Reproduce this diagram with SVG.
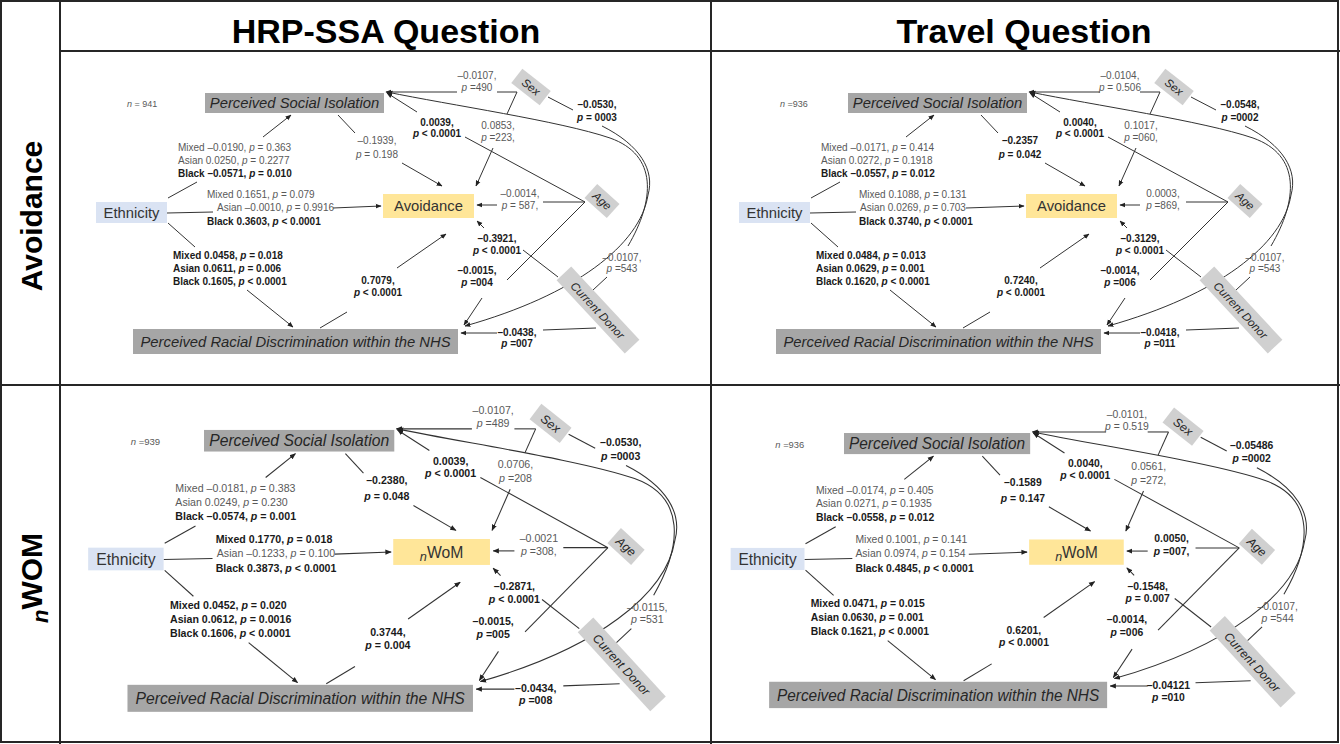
<svg xmlns="http://www.w3.org/2000/svg" width="1340" height="744" viewBox="0 0 1340 744">
<style>
.t{font-family:"Liberation Sans",Arial,sans-serif}
.lab{font-size:10px;fill:#595959}
.b{font-weight:bold;fill:#1a1a1a}
.c{text-anchor:middle}
.i{font-style:italic}
.e path{fill:none;stroke:#333;stroke-width:1}
.e path.a{marker-end:url(#ah)}
.gbox{fill:#a6a6a6}
.lbox{fill:#d0d0d0}
.big{font-size:14.8px;font-style:italic;fill:#262626;text-anchor:middle}
.node{font-size:14.8px;fill:#333;text-anchor:middle}
.sm{font-size:11.5px;font-style:italic;fill:#262626;text-anchor:middle}
.nn{font-size:9px;fill:#595959}
.hd{font-size:34px;font-weight:bold;fill:#000;text-anchor:middle}
.rl{font-size:30px;font-weight:bold;fill:#000;text-anchor:middle}
</style>
<defs>
<marker id="ah" viewBox="0 0 10 10" refX="9" refY="5" markerWidth="6" markerHeight="6" orient="auto" markerUnits="userSpaceOnUse"><path d="M0 1L10 5L0 9z" fill="#222"/></marker>
</defs>
<rect x="0" y="0" width="1340" height="744" fill="#fff"/>
<g id="frame" fill="none" stroke="#262626" stroke-width="2">
<rect x="1" y="1" width="1337" height="741"/>
<line x1="60" y1="0" x2="60" y2="744"/>
<line x1="711" y1="0" x2="711" y2="744"/>
<line x1="60" y1="51" x2="1340" y2="51"/>
<line x1="0" y1="385" x2="1340" y2="385"/>
</g>
<g id="headers">
<text class="t hd" x="386" y="43">HRP-SSA Question</text>
<text class="t hd" x="1024" y="43">Travel Question</text>
<text class="t rl" transform="translate(42 216) rotate(-90)">Avoidance</text>
<text class="t rl" transform="translate(42 578) rotate(-90)"><tspan class="i" font-size="22" dy="6">n</tspan><tspan dy="-6">WOM</tspan></text>
</g>

<!-- Panel 1: HRP-SSA / Avoidance -->
<g id="panel-hrp-avoidance">
<g id="p1-connectors" class="e">
<path d="M168 198L197 182"/><path class="a" d="M263 137L291 115"/>
<path d="M167 213L213 212"/><path class="a" d="M333 208L381 206"/>
<path d="M168 223L195 247"/><path class="a" d="M247 290L293 327"/>
<path d="M338 115L355 133"/><path class="a" d="M402 163L442 186"/>
<path d="M320 328L347 312"/><path class="a" d="M397 268L446 234"/>
<path d="M517 92L497 92"/><path class="a" d="M457 92L386 92"/>
<path d="M517 92L507 114"/><path class="a" d="M493 148L476 186"/>
<path d="M548 97L573 110"/><path class="a" d="M602 126C640 145 655 170 648 195C640 245 575 295 465 326"/>
<path d="M585 202L465 137"/><path class="a" d="M417 112L387 93"/>
<path d="M585 202L543 202"/><path class="a" d="M497 205L477 205"/>
<path d="M585 202L507 280"/><path class="a" d="M482 298L464 325"/>
<path d="M593 290L607 277"/><path class="a" d="M628 246C655 200 658 155 610 138C560 121 450 105 387 92"/>
<path d="M558 277L523 250"/><path class="a" d="M484 228L477 221"/>
<path d="M596 328L543 330"/><path class="a" d="M497 333L461 333"/>
</g>
<g id="p1-labels">
<text class="t nn" x="127" y="107"><tspan class="i">n</tspan> = 941</text>
<text class="t lab" x="178" y="150.5">Mixed –0.0190, <tspan class="i">p</tspan> = 0.363</text>
<text class="t lab" x="178" y="163.5">Asian 0.0250, <tspan class="i">p</tspan> = 0.2277</text>
<text class="t lab b" x="178" y="176.5">Black –0.0571, <tspan class="i">p</tspan> = 0.010</text>
<text class="t lab" x="207" y="197.5">Mixed 0.1651, <tspan class="i">p</tspan> = 0.079</text>
<text class="t lab" x="217" y="211">Asian –0.0010, <tspan class="i">p</tspan> = 0.9916</text>
<text class="t lab b" x="207" y="224.5">Black 0.3603, <tspan class="i">p</tspan> &lt; 0.0001</text>
<text class="t lab b" x="173" y="258.5">Mixed 0.0458, <tspan class="i">p</tspan> = 0.018</text>
<text class="t lab b" x="173" y="271.5">Asian 0.0611, <tspan class="i">p</tspan> = 0.006</text>
<text class="t lab b" x="173" y="285">Black 0.1605, <tspan class="i">p</tspan> &lt; 0.0001</text>
<text class="t lab c" x="377" y="143.5">–0.1939,</text><text class="t lab c" x="377" y="158"><tspan class="i">p</tspan> = 0.198</text>
<text class="t lab b c" x="378" y="283.5">0.7079,</text><text class="t lab b c" x="378" y="295.5"><tspan class="i">p</tspan> &lt; 0.0001</text>
<text class="t lab c" x="477" y="78.5">–0.0107,</text><text class="t lab c" x="477" y="90.5"><tspan class="i">p</tspan> =490</text>
<text class="t lab c" x="498" y="128.5">0.0853,</text><text class="t lab c" x="498" y="141"><tspan class="i">p</tspan> =223,</text>
<text class="t lab b c" x="597" y="108">–0.0530,</text><text class="t lab b c" x="597" y="120.5"><tspan class="i">p</tspan> = 0003</text>
<text class="t lab b c" x="437" y="125.5">0.0039,</text><text class="t lab b c" x="437" y="137"><tspan class="i">p</tspan> &lt; 0.0001</text>
<text class="t lab c" x="520" y="196.5">–0.0014,</text><text class="t lab c" x="520" y="208.5"><tspan class="i">p</tspan> = 587,</text>
<text class="t lab b c" x="477" y="273.5">–0.0015,</text><text class="t lab b c" x="477" y="285.5"><tspan class="i">p</tspan> =004</text>
<text class="t lab c" x="622" y="260.5">–0.0107,</text><text class="t lab c" x="622" y="272"><tspan class="i">p</tspan> =543</text>
<text class="t lab b c" x="497" y="241.5">–0.3921,</text><text class="t lab b c" x="497" y="253.5"><tspan class="i">p</tspan> &lt; 0.0001</text>
<text class="t lab b c" x="517" y="335.5">–0.0438,</text><text class="t lab b c" x="517" y="347"><tspan class="i">p</tspan> =007</text>
</g>
<g id="p1-ethnicity"><rect x="96" y="202" width="71" height="21" fill="#dae3f3"/><text class="t node" x="131.5" y="217.8">Ethnicity</text></g>
<g id="p1-social-isolation"><rect class="gbox" x="205" y="93" width="179" height="20"/><text class="t big" x="294.5" y="108.3">Perceived Social Isolation</text></g>
<g id="p1-avoidance"><rect x="383" y="194" width="91" height="24" fill="#ffe699"/><text class="t node" x="428.5" y="211.3">Avoidance</text></g>
<g id="p1-discrimination"><rect class="gbox" x="133" y="329" width="325" height="25"/><text class="t big" x="295.5" y="346.8">Perceived Racial Discrimination within the NHS</text></g>
<g id="p1-sex" transform="translate(531 87) rotate(38)"><rect class="lbox" x="-18" y="-9" width="36" height="18"/><text class="t sm" y="4">Sex</text></g>
<g id="p1-age" transform="translate(602 201) rotate(42)"><rect class="lbox" x="-15" y="-9.5" width="30" height="19"/><text class="t sm" y="4">Age</text></g>
<g id="p1-donor" transform="translate(598 310) rotate(47)"><rect class="lbox" x="-50" y="-10" width="100" height="20"/><text class="t sm" font-size="12.5" y="4.5">Current Donor</text></g>
</g>

<!-- Panel 2: Travel / Avoidance -->
<g id="panel-travel-avoidance" transform="translate(643 0)">
<g id="p2-connectors" class="e">
<path d="M168 198L197 182"/><path class="a" d="M263 137L291 115"/>
<path d="M167 213L213 212"/><path class="a" d="M323 208L381 206"/>
<path d="M168 223L195 247"/><path class="a" d="M247 290L293 327"/>
<path d="M338 115L355 133"/><path class="a" d="M402 163L442 186"/>
<path d="M320 328L347 312"/><path class="a" d="M397 268L446 234"/>
<path d="M517 92L497 92"/><path class="a" d="M457 92L386 92"/>
<path d="M517 92L507 114"/><path class="a" d="M493 148L476 186"/>
<path d="M548 97L573 110"/><path class="a" d="M602 126C640 145 655 170 648 195C640 245 575 295 465 326"/>
<path d="M585 202L465 137"/><path class="a" d="M417 112L387 93"/>
<path d="M585 202L543 202"/><path class="a" d="M497 205L477 205"/>
<path d="M585 202L507 280"/><path class="a" d="M482 298L464 325"/>
<path d="M593 290L607 277"/><path class="a" d="M628 246C655 200 658 155 610 138C560 121 450 105 387 92"/>
<path d="M558 277L523 250"/><path class="a" d="M484 228L477 221"/>
<path d="M596 328L543 330"/><path class="a" d="M497 333L461 333"/>
</g>
<g id="p2-labels">
<text class="t nn" x="137" y="107"><tspan class="i">n</tspan> =936</text>
<text class="t lab" x="178" y="150.5">Mixed –0.0171, <tspan class="i">p</tspan> = 0.414</text>
<text class="t lab" x="178" y="163.5">Asian 0.0272, <tspan class="i">p</tspan> = 0.1918</text>
<text class="t lab b" x="178" y="176.5">Black –0.0557, <tspan class="i">p</tspan> = 0.012</text>
<text class="t lab" x="216" y="197.5">Mixed 0.1088, <tspan class="i">p</tspan> = 0.131</text>
<text class="t lab" x="217" y="211">Asian 0.0269, <tspan class="i">p</tspan> = 0.703</text>
<text class="t lab b" x="216" y="224.5">Black 0.3740, <tspan class="i">p</tspan> &lt; 0.0001</text>
<text class="t lab b" x="173" y="258.5">Mixed 0.0484, <tspan class="i">p</tspan> = 0.013</text>
<text class="t lab b" x="173" y="271.5">Asian 0.0629, <tspan class="i">p</tspan> = 0.001</text>
<text class="t lab b" x="173" y="285">Black 0.1620, <tspan class="i">p</tspan> &lt; 0.0001</text>
<text class="t lab b c" x="377" y="143.5">–0.2357</text><text class="t lab b c" x="377" y="158"><tspan class="i">p</tspan> = 0.042</text>
<text class="t lab b c" x="378" y="283.5">0.7240,</text><text class="t lab b c" x="378" y="295.5"><tspan class="i">p</tspan> &lt; 0.0001</text>
<text class="t lab c" x="477" y="78.5">–0.0104,</text><text class="t lab c" x="477" y="90.5"><tspan class="i">p</tspan> = 0.506</text>
<text class="t lab c" x="498" y="128.5">0.1017,</text><text class="t lab c" x="498" y="141"><tspan class="i">p</tspan> =060,</text>
<text class="t lab b c" x="597" y="108">–0.0548,</text><text class="t lab b c" x="597" y="120.5"><tspan class="i">p</tspan> =0002</text>
<text class="t lab b c" x="437" y="125.5">0.0040,</text><text class="t lab b c" x="437" y="137"><tspan class="i">p</tspan> &lt; 0.0001</text>
<text class="t lab c" x="520" y="196.5">0.0003,</text><text class="t lab c" x="520" y="208.5"><tspan class="i">p</tspan> =869,</text>
<text class="t lab b c" x="477" y="273.5">–0.0014,</text><text class="t lab b c" x="477" y="285.5"><tspan class="i">p</tspan> =006</text>
<text class="t lab c" x="622" y="260.5">–0.0107,</text><text class="t lab c" x="622" y="272"><tspan class="i">p</tspan> =543</text>
<text class="t lab b c" x="497" y="241.5">–0.3129,</text><text class="t lab b c" x="497" y="253.5"><tspan class="i">p</tspan> &lt; 0.0001</text>
<text class="t lab b c" x="517" y="335.5">–0.0418,</text><text class="t lab b c" x="517" y="347"><tspan class="i">p</tspan> =011</text>
</g>
<g id="p2-ethnicity"><rect x="96" y="202" width="71" height="21" fill="#dae3f3"/><text class="t node" x="131.5" y="217.8">Ethnicity</text></g>
<g id="p2-social-isolation"><rect class="gbox" x="205" y="93" width="179" height="20"/><text class="t big" x="294.5" y="108.3">Perceived Social Isolation</text></g>
<g id="p2-avoidance"><rect x="383" y="194" width="91" height="24" fill="#ffe699"/><text class="t node" x="428.5" y="211.3">Avoidance</text></g>
<g id="p2-discrimination"><rect class="gbox" x="133" y="329" width="325" height="25"/><text class="t big" x="295.5" y="346.8">Perceived Racial Discrimination within the NHS</text></g>
<g id="p2-sex" transform="translate(531 87) rotate(38)"><rect class="lbox" x="-18" y="-9" width="36" height="18"/><text class="t sm" y="4">Sex</text></g>
<g id="p2-age" transform="translate(602 201) rotate(42)"><rect class="lbox" x="-15" y="-9.5" width="30" height="19"/><text class="t sm" y="4">Age</text></g>
<g id="p2-donor" transform="translate(598 310) rotate(47)"><rect class="lbox" x="-50" y="-10" width="100" height="20"/><text class="t sm" font-size="12.5" y="4.5">Current Donor</text></g>
</g>

<!-- Panel 3: HRP-SSA / nWOM -->
<g id="panel-hrp-nwom" transform="matrix(1.063 0 0 1.08 -13.9 329.5)">
<g id="p3-connectors" class="e">
<path d="M168 198L197 182"/><path class="a" d="M263 137L291 115"/>
<path d="M167 213L213 212"/><path class="a" d="M328 208L381 206"/>
<path d="M168 223L195 247"/><path class="a" d="M247 290L293 327"/>
<path d="M338 115L355 133"/><path class="a" d="M402 163L442 186"/>
<path d="M320 328L347 312"/><path class="a" d="M397 268L446 234"/>
<path d="M517 92L497 92"/><path class="a" d="M457 92L386 92"/>
<path d="M517 92L507 114"/><path class="a" d="M493 148L476 186"/>
<path d="M548 97L573 110"/><path class="a" d="M602 126C640 145 655 170 648 195C640 245 575 295 465 326"/>
<path d="M585 202L465 137"/><path class="a" d="M417 112L387 93"/>
<path d="M585 202L543 202"/><path class="a" d="M497 205L477 205"/>
<path d="M585 202L507 280"/><path class="a" d="M482 298L464 325"/>
<path d="M593 290L607 277"/><path class="a" d="M628 246C655 200 658 155 610 138C560 121 450 105 387 92"/>
<path d="M558 277L523 250"/><path class="a" d="M484 228L477 221"/>
<path d="M596 328L543 330"/><path class="a" d="M497 333L461 333"/>
</g>
<g id="p3-labels">
<text class="t nn" x="136" y="107"><tspan class="i">n</tspan> =939</text>
<text class="t lab" x="178" y="150.5">Mixed –0.0181, <tspan class="i">p</tspan> = 0.383</text>
<text class="t lab" x="178" y="163.5">Asian 0.0249, <tspan class="i">p</tspan> = 0.230</text>
<text class="t lab b" x="178" y="176.5">Black –0.0574, <tspan class="i">p</tspan> = 0.001</text>
<text class="t lab b" x="216" y="197.5">Mixed 0.1770, <tspan class="i">p</tspan> = 0.018</text>
<text class="t lab" x="217" y="211">Asian –0.1233, <tspan class="i">p</tspan> = 0.100</text>
<text class="t lab b" x="216" y="224.5">Black 0.3873, <tspan class="i">p</tspan> &lt; 0.0001</text>
<text class="t lab b" x="173" y="258.5">Mixed 0.0452, <tspan class="i">p</tspan> = 0.020</text>
<text class="t lab b" x="173" y="271.5">Asian 0.0612, <tspan class="i">p</tspan> = 0.0016</text>
<text class="t lab b" x="173" y="285">Black 0.1606, <tspan class="i">p</tspan> &lt; 0.0001</text>
<text class="t lab b c" x="377" y="143.5">–0.2380,</text><text class="t lab b c" x="377" y="158"><tspan class="i">p</tspan> = 0.048</text>
<text class="t lab b c" x="378" y="283.5">0.3744,</text><text class="t lab b c" x="378" y="295.5"><tspan class="i">p</tspan> = 0.004</text>
<text class="t lab c" x="477" y="78.5">–0.0107,</text><text class="t lab c" x="477" y="90.5"><tspan class="i">p</tspan> =489</text>
<text class="t lab c" x="498" y="128.5">0.0706,</text><text class="t lab c" x="498" y="141"><tspan class="i">p</tspan> =208</text>
<text class="t lab b c" x="597" y="108">–0.0530,</text><text class="t lab b c" x="597" y="120.5"><tspan class="i">p</tspan> =0003</text>
<text class="t lab b c" x="437" y="125.5">0.0039,</text><text class="t lab b c" x="437" y="137"><tspan class="i">p</tspan> &lt; 0.0001</text>
<text class="t lab c" x="520" y="196.5">–0.0021</text><text class="t lab c" x="520" y="208.5"><tspan class="i">p</tspan> =308,</text>
<text class="t lab b c" x="477" y="273.5">–0.0015,</text><text class="t lab b c" x="477" y="285.5"><tspan class="i">p</tspan> =005</text>
<text class="t lab c" x="622" y="260.5">–0.0115,</text><text class="t lab c" x="622" y="272"><tspan class="i">p</tspan> =531</text>
<text class="t lab b c" x="497" y="241.5">–0.2871,</text><text class="t lab b c" x="497" y="253.5"><tspan class="i">p</tspan> &lt; 0.0001</text>
<text class="t lab b c" x="517" y="335.5">–0.0434,</text><text class="t lab b c" x="517" y="347"><tspan class="i">p</tspan> =008</text>
</g>
<g id="p3-ethnicity"><rect x="96" y="202" width="71" height="21" fill="#dae3f3"/><text class="t node" x="131.5" y="217.8">Ethnicity</text></g>
<g id="p3-social-isolation"><rect class="gbox" x="205" y="93" width="179" height="20"/><text class="t big" x="294.5" y="108.3">Perceived Social Isolation</text></g>
<g id="p3-nwom"><rect x="383" y="194" width="91" height="24" fill="#ffe699"/><text class="t node" x="428.5" y="211.3"><tspan class="i" font-size="12" dy="3">n</tspan><tspan dy="-3">WoM</tspan></text></g>
<g id="p3-discrimination"><rect class="gbox" x="133" y="329" width="325" height="25"/><text class="t big" x="295.5" y="346.8">Perceived Racial Discrimination within the NHS</text></g>
<g id="p3-sex" transform="translate(531 87) rotate(38)"><rect class="lbox" x="-18" y="-9" width="36" height="18"/><text class="t sm" y="4">Sex</text></g>
<g id="p3-age" transform="translate(602 201) rotate(42)"><rect class="lbox" x="-15" y="-9.5" width="30" height="19"/><text class="t sm" y="4">Age</text></g>
<g id="p3-donor" transform="translate(598 310) rotate(47)"><rect class="lbox" x="-50" y="-10" width="100" height="20"/><text class="t sm" font-size="12.5" y="4.5">Current Donor</text></g>
</g>

<!-- Panel 4: Travel / nWOM -->
<g id="panel-travel-nwom" transform="matrix(1.04 0 0 1.054 630.8 335)">
<g id="p4-connectors" class="e">
<path d="M168 198L197 182"/><path class="a" d="M263 137L291 115"/>
<path d="M167 213L213 212"/><path class="a" d="M325 208L381 206"/>
<path d="M168 223L195 247"/><path class="a" d="M247 290L293 327"/>
<path d="M338 115L355 133"/><path class="a" d="M402 163L442 186"/>
<path d="M320 328L347 312"/><path class="a" d="M397 268L446 234"/>
<path d="M517 92L497 92"/><path class="a" d="M457 92L386 92"/>
<path d="M517 92L507 114"/><path class="a" d="M493 148L476 186"/>
<path d="M548 97L573 110"/><path class="a" d="M602 126C640 145 655 170 648 195C640 245 575 295 465 326"/>
<path d="M585 202L465 137"/><path class="a" d="M417 112L387 93"/>
<path d="M585 202L543 202"/><path class="a" d="M497 205L477 205"/>
<path d="M585 202L507 280"/><path class="a" d="M482 298L464 325"/>
<path d="M593 290L607 277"/><path class="a" d="M628 246C655 200 658 155 610 138C560 121 450 105 387 92"/>
<path d="M558 277L523 250"/><path class="a" d="M484 228L477 221"/>
<path d="M596 328L543 330"/><path class="a" d="M497 333L461 333"/>
</g>
<g id="p4-labels">
<text class="t nn" x="139" y="107"><tspan class="i">n</tspan> =936</text>
<text class="t lab" x="178" y="150.5">Mixed –0.0174, <tspan class="i">p</tspan> = 0.405</text>
<text class="t lab" x="178" y="163.5">Asian 0.0271, <tspan class="i">p</tspan> = 0.1935</text>
<text class="t lab b" x="178" y="176.5">Black –0.0558, <tspan class="i">p</tspan> = 0.012</text>
<text class="t lab" x="216" y="197.5">Mixed 0.1001, <tspan class="i">p</tspan> = 0.141</text>
<text class="t lab" x="216" y="211">Asian 0.0974, <tspan class="i">p</tspan> = 0.154</text>
<text class="t lab b" x="216" y="224.5">Black 0.4845, <tspan class="i">p</tspan> &lt; 0.0001</text>
<text class="t lab b" x="173" y="258.5">Mixed 0.0471, <tspan class="i">p</tspan> = 0.015</text>
<text class="t lab b" x="173" y="271.5">Asian 0.0630, <tspan class="i">p</tspan> = 0.001</text>
<text class="t lab b" x="173" y="285">Black 0.1621, <tspan class="i">p</tspan> &lt; 0.0001</text>
<text class="t lab b c" x="377" y="143.5">–0.1589</text><text class="t lab b c" x="377" y="158"><tspan class="i">p</tspan> = 0.147</text>
<text class="t lab b c" x="378" y="283.5">0.6201,</text><text class="t lab b c" x="378" y="295.5"><tspan class="i">p</tspan> &lt; 0.0001</text>
<text class="t lab c" x="477" y="78.5">–0.0101,</text><text class="t lab c" x="477" y="90.5"><tspan class="i">p</tspan> = 0.519</text>
<text class="t lab c" x="498" y="128.5">0.0561,</text><text class="t lab c" x="498" y="141"><tspan class="i">p</tspan> =272,</text>
<text class="t lab b c" x="597" y="108">–0.05486</text><text class="t lab b c" x="597" y="120.5"><tspan class="i">p</tspan> =0002</text>
<text class="t lab b c" x="437" y="125.5">0.0040,</text><text class="t lab b c" x="437" y="137"><tspan class="i">p</tspan> &lt; 0.0001</text>
<text class="t lab b c" x="520" y="196.5">0.0050,</text><text class="t lab b c" x="520" y="208.5"><tspan class="i">p</tspan> =007,</text>
<text class="t lab b c" x="477" y="273.5">–0.0014,</text><text class="t lab b c" x="477" y="285.5"><tspan class="i">p</tspan> =006</text>
<text class="t lab c" x="622" y="260.5">–0.0107,</text><text class="t lab c" x="622" y="272"><tspan class="i">p</tspan> =544</text>
<text class="t lab b c" x="497" y="241.5">–0.1548,</text><text class="t lab b c" x="497" y="253.5"><tspan class="i">p</tspan> = 0.007</text>
<text class="t lab b c" x="517" y="335.5">–0.04121</text><text class="t lab b c" x="517" y="347"><tspan class="i">p</tspan> =010</text>
</g>
<g id="p4-ethnicity"><rect x="96" y="202" width="71" height="21" fill="#dae3f3"/><text class="t node" x="131.5" y="217.8">Ethnicity</text></g>
<g id="p4-social-isolation"><rect class="gbox" x="205" y="93" width="179" height="20"/><text class="t big" x="294.5" y="108.3">Perceived Social Isolation</text></g>
<g id="p4-nwom"><rect x="383" y="194" width="91" height="24" fill="#ffe699"/><text class="t node" x="428.5" y="211.3"><tspan class="i" font-size="12" dy="3">n</tspan><tspan dy="-3">WoM</tspan></text></g>
<g id="p4-discrimination"><rect class="gbox" x="133" y="329" width="325" height="25"/><text class="t big" x="295.5" y="346.8">Perceived Racial Discrimination within the NHS</text></g>
<g id="p4-sex" transform="translate(531 87) rotate(38)"><rect class="lbox" x="-18" y="-9" width="36" height="18"/><text class="t sm" y="4">Sex</text></g>
<g id="p4-age" transform="translate(602 201) rotate(42)"><rect class="lbox" x="-15" y="-9.5" width="30" height="19"/><text class="t sm" y="4">Age</text></g>
<g id="p4-donor" transform="translate(598 310) rotate(47)"><rect class="lbox" x="-50" y="-10" width="100" height="20"/><text class="t sm" font-size="12.5" y="4.5">Current Donor</text></g>
</g>
</svg>
